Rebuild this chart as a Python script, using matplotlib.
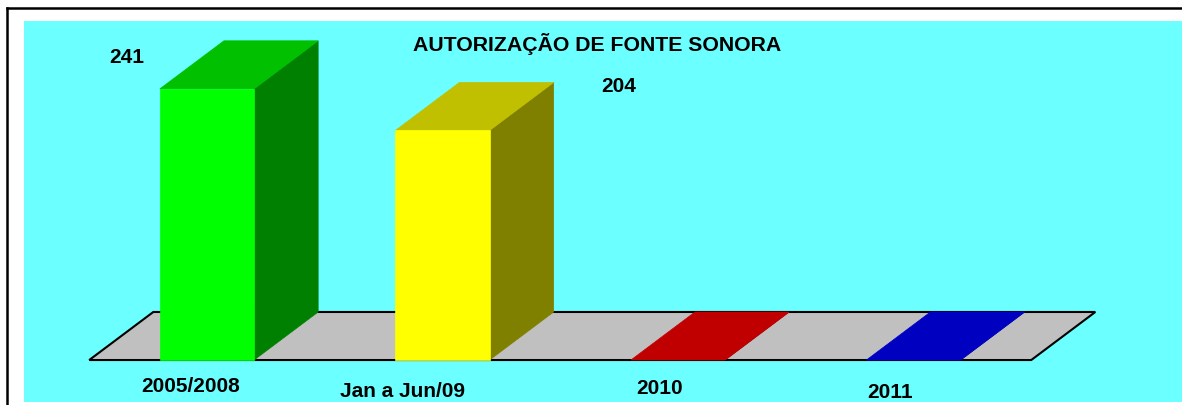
import matplotlib
matplotlib.use('Agg')
import matplotlib.pyplot as plt
from matplotlib.patches import Polygon
from matplotlib.lines import Line2D

# data
categories = ['2005/2008', 'Jan a Jun/09', '2010', '2011']
values = [241, 204, 0, 0]
show_value = [True, True, False, False]
title = 'AUTORIZAÇÃO DE FONTE SONORA'

# colours per bar: front, top, side
front_cols = ['#00FF00', '#FFFF00', '#FF0000', '#0000FF']
top_cols = ['#00C000', '#C0C000', '#C00000', '#0000C0']
side_cols = ['#008000', '#808000', '#800000', '#000080']

plt.rcParams['font.family'] = ['Liberation Sans', 'DejaVu Sans']

W, H = 1182, 406
fig = plt.figure(figsize=(W / 100, H / 100), dpi=100)
fig.patch.set_facecolor('white')

# plot area (cyan) in pixels
left_px, top_px, bottom_px = 24, 22, 403
ax = fig.add_axes([left_px / W, (H - bottom_px) / H, (W - left_px) / W, (bottom_px - top_px) / H])
ax.set_facecolor('#6BFFFF')
for s in ax.spines.values():
    s.set_visible(False)
ax.set_xticks([])
ax.set_yticks([])
ax.set_xlim(-0.777, 4.14)
ax.set_ylim(-37.3, 301.3)

bar_w = 0.40
dx, dy = 0.272, 42.7   # depth offset of the 3d look

# floor
n = len(categories)
fx0, fx1 = -0.5, n - 0.5
floor = Polygon([(fx0, 0), (fx1, 0), (fx1 + dx, dy), (fx0 + dx, dy)], closed=True,
                facecolor='#C0C0C0', edgecolor='black', lw=1.5, zorder=1)
ax.add_patch(floor)

for i, v in enumerate(values):
    x0 = i - bar_w / 2
    x1 = i + bar_w / 2
    side = Polygon([(x1, 0), (x1 + dx, dy), (x1 + dx, v + dy), (x1, v)], closed=True,
                   facecolor=side_cols[i], edgecolor=side_cols[i], lw=0.5, zorder=2)
    top = Polygon([(x0, v), (x1, v), (x1 + dx, v + dy), (x0 + dx, v + dy)], closed=True,
                  facecolor=top_cols[i], edgecolor=top_cols[i], lw=0.5, zorder=3)
    ax.add_patch(side)
    ax.add_patch(top)
    if v > 0:
        front = Polygon([(x0, 0), (x1, 0), (x1, v), (x0, v)], closed=True,
                        facecolor=front_cols[i], edgecolor=front_cols[i], lw=0.5, zorder=4)
        ax.add_patch(front)

# value labels (placed like the original, not on top of the bars)
val_off = [(-0.34, 29), (0.75, 39.6), (0, 10), (0, 10)]
for i, v in enumerate(values):
    if show_value[i]:
        ax.text(i + val_off[i][0], v + val_off[i][1], str(v), ha='center', va='center',
                fontsize=15, fontweight='bold', zorder=5)

# category labels, staggered
cat_off = [(-0.07, -22.2), (-0.17, -26.7), (-0.08, -24.0), (-0.10, -28.4)]
for i, c in enumerate(categories):
    ax.text(i + cat_off[i][0], cat_off[i][1], c, ha='center', va='center',
            fontsize=15, fontweight='bold', zorder=5)

ax.text(1.656, 281.8, title, ha='center', va='center', fontsize=15.3, fontweight='bold', zorder=5)

# outer frame (only top and left visible)
fig.add_artist(Line2D([7 / W, 7 / W], [0, 1 - 9 / H], color='black', lw=1.8))
fig.add_artist(Line2D([7 / W, 1], [1 - 9 / H, 1 - 9 / H], color='black', lw=1.8))

fig.savefig('out.png', dpi=100)
